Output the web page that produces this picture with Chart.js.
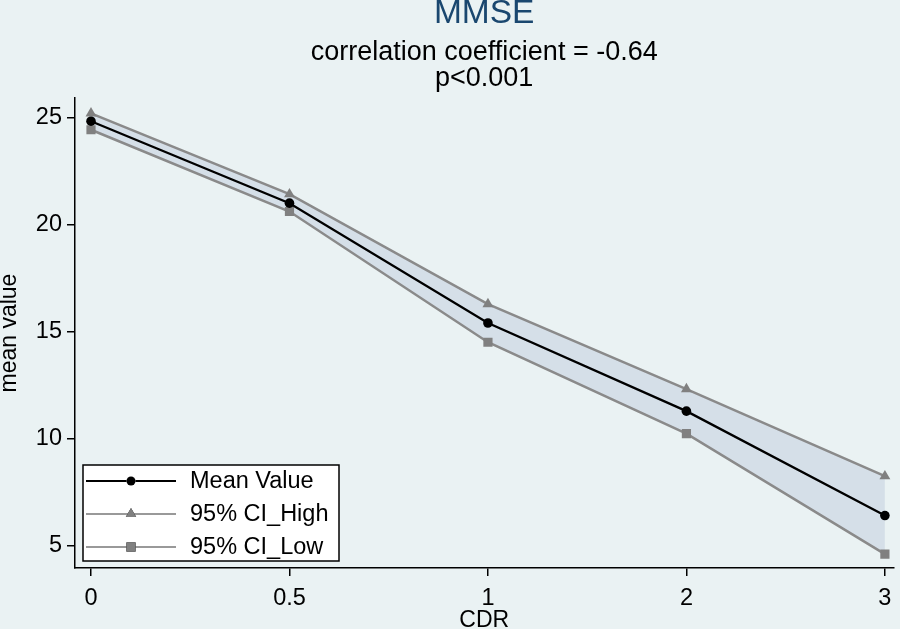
<!DOCTYPE html>
<html>
<head>
<meta charset="utf-8">
<script src="https://cdn.jsdelivr.net/npm/chart.js@4/dist/chart.umd.min.js"></script>
<style>
  html, body { margin: 0; padding: 0; background: #eaf2f3; }
  #wrap { width: 900px; height: 629px; }
</style>
</head>
<body>
<div id="wrap"><canvas id="c" width="900" height="629"></canvas></div>
<script>
// ---- data ----
const categories = ['0', '0.5', '1', '2', '3'];
const meanValues = [24.85, 21.02, 15.42, 11.3, 6.42];
const ciHigh = [25.22, 21.44, 16.3, 12.33, 8.26];
const ciLow = [24.45, 20.63, 14.52, 10.25, 4.62];
const yTicks = [5, 10, 15, 20, 25];
const seriesLabels = ['Mean Value', '95% CI_High', '95% CI_Low'];
const titleText = 'MMSE';
const subtitleLines = ['correlation coefficient = -0.64', 'p<0.001'];
const xTitle = 'CDR';
const yTitle = 'mean value';

const FONT = "'Liberation Sans', Arial, sans-serif";
const toPts = arr => arr.map((v, i) => ({ x: i, y: v }));

const bgPlugin = {
  id: 'bg',
  beforeDraw(chart) {
    const ctx = chart.ctx;
    ctx.save();
    ctx.fillStyle = '#eaf2f3';
    ctx.fillRect(0, 0, chart.width, chart.height);
    ctx.restore();
  }
};

const legendBox = {
  id: 'legendBox',
  afterDraw(chart) {
    const ctx = chart.ctx;
    const left = chart.chartArea.left + 8;
    const top = 465, w = 256, h = 96;
    ctx.save();
    ctx.fillStyle = '#ffffff';
    ctx.fillRect(left, top, w, h);
    ctx.strokeStyle = '#000';
    ctx.lineWidth = 1.5;
    ctx.strokeRect(left, top, w, h);
    const rows = [481, 514, 547];
    chart.data.datasets.forEach((ds, i) => {
      const y = rows[i];
      ctx.strokeStyle = ds.legendLine;
      ctx.lineWidth = 2;
      ctx.beginPath();
      ctx.moveTo(left + 3, y);
      ctx.lineTo(left + 93, y);
      ctx.stroke();
      Chart.helpers.drawPoint(ctx, {
        pointStyle: ds.pointStyle,
        radius: ds.legendRadius,
        borderWidth: 0
      }, left + 48, y);
      ctx.fillStyle = ds.pointBackgroundColor;
      ctx.fill();
      ctx.fillStyle = '#000';
      ctx.font = '23.5px ' + FONT;
      ctx.textBaseline = 'middle';
      ctx.textAlign = 'left';
      ctx.fillText(ds.label, left + 107, y + 1);
    });
    ctx.restore();
  }
};

new Chart(document.getElementById('c'), {
  type: 'line',
  data: {
    datasets: [
      {
        label: seriesLabels[0],
        data: toPts(meanValues),
        borderColor: '#000000',
        borderWidth: 2.3,
        pointStyle: 'circle',
        pointRadius: 4.8,
        pointBackgroundColor: '#000000',
        pointBorderWidth: 0,
        fill: false,
        legendLine: '#000000',
        legendRadius: 4.5
      },
      {
        label: seriesLabels[1],
        data: toPts(ciHigh),
        borderColor: '#8a8a8a',
        borderWidth: 2.5,
        pointStyle: 'triangle',
        pointRadius: 6.3,
        pointBackgroundColor: '#808080',
        pointBorderWidth: 0,
        backgroundColor: '#d5dfe8',
        fill: 2,
        legendLine: '#999999',
        legendRadius: 6
      },
      {
        label: seriesLabels[2],
        data: toPts(ciLow),
        borderColor: '#8a8a8a',
        borderWidth: 2.5,
        pointStyle: 'rect',
        pointRadius: 6.5,
        pointBackgroundColor: '#808080',
        pointBorderWidth: 0,
        fill: false,
        legendLine: '#999999',
        legendRadius: 6.5
      }
    ]
  },
  options: {
    responsive: false,
    animation: false,
    devicePixelRatio: 1,
    layout: { padding: 0 },
    elements: { line: { tension: 0 } },
    plugins: {
      legend: { display: false },
      tooltip: { enabled: false },
      filler: { drawTime: 'beforeDatasetsDraw' },
      title: {
        display: true,
        fullSize: false,
        text: titleText,
        color: '#1a476f',
        font: { family: FONT, size: 33.5, weight: 'normal', lineHeight: 0.8 },
        padding: { top: 0, bottom: 4 }
      },
      subtitle: {
        display: true,
        fullSize: false,
        text: subtitleLines,
        color: '#000000',
        font: { family: FONT, size: 27, weight: 'normal', lineHeight: 0.95 },
        padding: { top: 9, bottom: 7 }
      }
    },
    scales: {
      x: {
        type: 'linear',
        min: -0.0806,
        max: 4.043,
        afterBuildTicks(scale) {
          scale.ticks = categories.map((c, i) => ({ value: i }));
        },
        afterFit(scale) {
          scale.height = 61;
        },
        ticks: {
          callback: v => categories[v],
          color: '#000',
          font: { family: FONT, size: 23.5, lineHeight: 1.2 },
          padding: 8.5,
          maxRotation: 0,
          autoSkip: false
        },
        grid: { drawOnChartArea: false, drawTicks: true, tickLength: 8, color: '#000', lineWidth: 1.5 },
        border: { display: true, color: '#000', width: 1.5 },
        title: {
          display: true,
          text: xTitle,
          color: '#000',
          font: { family: FONT, size: 23, lineHeight: 0.7 },
          padding: { top: 0, bottom: 0 }
        }
      },
      y: {
        type: 'linear',
        min: 3.97,
        max: 25.93,
        afterBuildTicks(scale) {
          scale.ticks = yTicks.map(v => ({ value: v }));
        },
        afterFit(scale) { scale.width = 75; },
        ticks: {
          color: '#000',
          font: { family: FONT, size: 23.5, lineHeight: 1.2 },
          padding: 5
        },
        grid: { drawOnChartArea: false, drawTicks: true, tickLength: 8, color: '#000', lineWidth: 1.5 },
        border: { display: true, color: '#000', width: 1.5 },
        title: {
          display: true,
          text: yTitle,
          color: '#000',
          font: { family: FONT, size: 23, lineHeight: 0.85 },
          padding: { top: 0, bottom: 0 }
        }
      }
    }
  },
  plugins: [bgPlugin, legendBox]
});
</script>
</body>
</html>
